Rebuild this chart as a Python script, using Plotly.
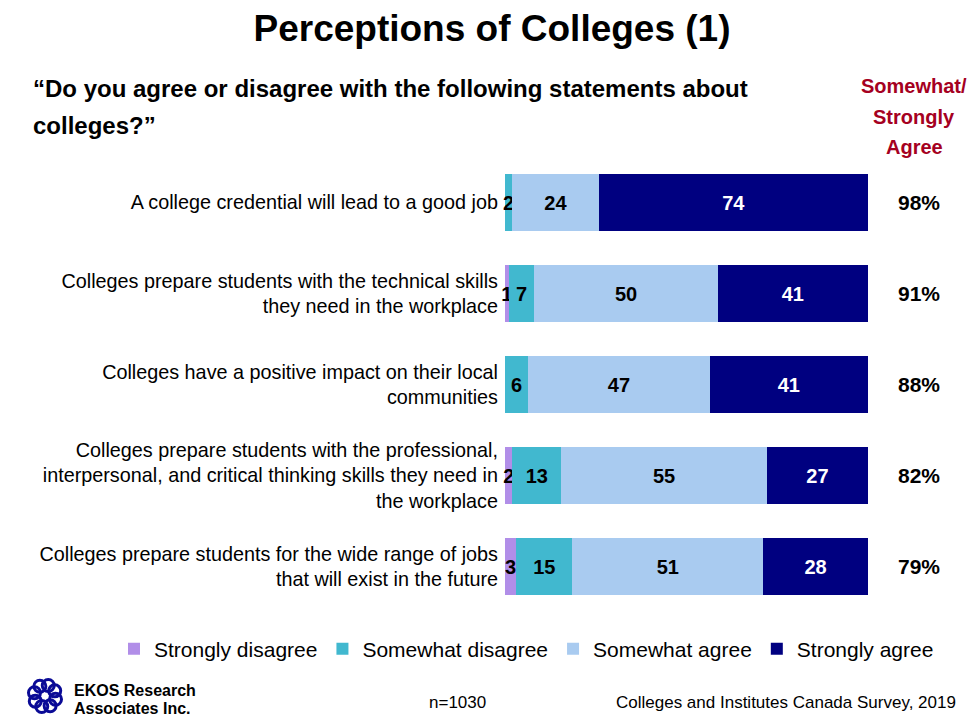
import math
import plotly.graph_objects as go

# Survey statements (top to bottom)
statements = [
    "A college credential will lead to a good job",
    "Colleges prepare students with the technical skills<br>they need in the workplace",
    "Colleges have a positive impact on their local<br>communities",
    "Colleges prepare students with the professional,<br>interpersonal, and critical thinking skills they need in<br>the workplace",
    "Colleges prepare students for the wide range of jobs<br>that will exist in the future",
]

# Response shares (%)
strongly_disagree = [0, 1, 0, 2, 3]
somewhat_disagree = [2, 7, 6, 13, 15]
somewhat_agree = [24, 50, 47, 55, 51]
strongly_agree = [74, 41, 41, 27, 28]

series_names = ["Strongly disagree", "Somewhat disagree", "Somewhat agree", "Strongly agree"]
series_colors = ["#B18EE8", "#41B8CF", "#A9CBF0", "#000080"]
text_colors = ["black", "black", "black", "white"]

FONT = "Liberation Sans, Arial, sans-serif"
W, H = 971, 717
L, R, T, B = 505, 103, 157, 105

fig = go.Figure()
for name, vals, color, tcolor in zip(
    series_names,
    [strongly_disagree, somewhat_disagree, somewhat_agree, strongly_agree],
    series_colors,
    text_colors,
):
    fig.add_trace(go.Bar(
        name=name,
        y=statements,
        x=vals,
        orientation="h",
        marker=dict(color=color, line=dict(width=0)),
        text=[str(v) if v > 0 else "" for v in vals],
        textposition="inside",
        insidetextanchor="middle",
        constraintext="none",
        textfont=dict(family=FONT, size=20, color=tcolor, weight="bold"),
        cliponaxis=False,
        hoverinfo="skip",
    ))


def to_paper(px, py):
    """Convert page pixels to paper coordinates of the plot area."""
    return (px - L) / (W - L - R), (H - B - py) / (H - T - B)


lx, ly = to_paper(114, 649)
fig.update_layout(
    width=W, height=H,
    barmode="stack", barnorm="percent", bargap=0.37,
    plot_bgcolor="white", paper_bgcolor="white",
    margin=dict(l=L, r=R, t=T, b=B, autoexpand=False),
    font=dict(family=FONT, color="black"),
    title=dict(
        text="<b>Perceptions of Colleges (1)</b>",
        x=492 / W, xanchor="center", y=1 - 28 / H, yanchor="middle",
        font=dict(family=FONT, size=37, color="black"),
    ),
    xaxis=dict(visible=False, range=[0, 100], fixedrange=True),
    yaxis=dict(
        autorange="reversed", showgrid=False, showline=False, zeroline=False,
        ticks="", ticklabelstandoff=6,
        tickfont=dict(family=FONT, size=19.8, color="black"),
    ),
    legend=dict(
        orientation="h", xref="paper", yref="paper",
        x=lx, xanchor="left", y=ly, yanchor="middle",
        font=dict(family=FONT, size=21, color="black"),
        traceorder="normal", itemwidth=30,
    ),
    showlegend=True,
)


def page_text(text, px, py, size, color="black", anchor="left", bold=True):
    x, y = to_paper(px, py)
    fig.add_annotation(
        x=x, y=y, xref="paper", yref="paper", text=text, showarrow=False,
        xanchor=anchor, yanchor="middle", align=anchor,
        font=dict(family=FONT, size=size, color=color, weight="bold" if bold else "normal"),
    )


# Net agreement column on the right
for stmt, a, b in zip(statements, somewhat_agree, strongly_agree):
    fig.add_annotation(
        x=to_paper(919, 0)[0], xref="paper", y=stmt, yref="y",
        text=f"<b>{a + b}%</b>", showarrow=False,
        font=dict(family=FONT, size=21, color="black"),
        xanchor="center", yanchor="middle",
    )

# Question text
page_text("\u201cDo you agree or disagree with the following statements about", 31, 88, 24)
page_text("colleges?\u201d", 31, 125, 24)

# Right column header
for line, py in zip(["Somewhat/", "Strongly", "Agree"], [86, 117, 147]):
    page_text(line, 914, py, 20, color="#A50021", anchor="center")

# Footer
page_text("n=1030", 457, 702, 17, bold=False, anchor="center")
page_text("Colleges and Institutes Canada Survey, 2019", 958, 702, 17, bold=False, anchor="right")
page_text("EKOS Research", 72, 690, 16)
page_text("Associates Inc.", 72, 708, 16)

# EKOS logo: ring of small loops
cx, cy, ring_r, loop_r = 45, 696, 11, 6
for k in range(8):
    ang = 2 * math.pi * k / 8 + 0.3
    px_ = cx + ring_r * math.cos(ang)
    py_ = cy + ring_r * math.sin(ang)
    x0, y0 = to_paper(px_ - loop_r, py_ + loop_r)
    x1, y1 = to_paper(px_ + loop_r, py_ - loop_r)
    fig.add_shape(type="circle", xref="paper", yref="paper",
                  x0=x0, y0=y0, x1=x1, y1=y1,
                  line=dict(color="#0A0A96", width=3), fillcolor="rgba(0,0,0,0)")

fig.write_html("out.html")
